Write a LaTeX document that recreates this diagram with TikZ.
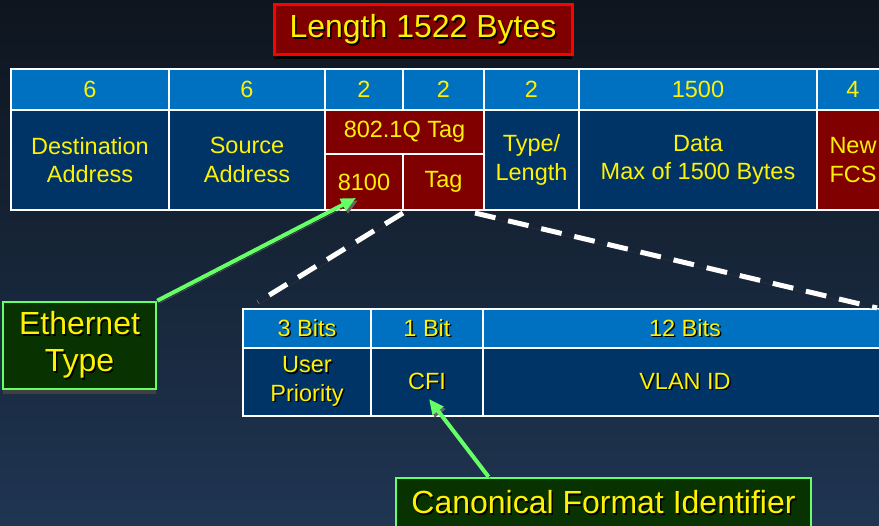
\documentclass[tikz,border=0pt]{standalone}
\usepackage{fontspec}
\setmainfont{Liberation Sans}
\usetikzlibrary{arrows.meta,shadows}
\definecolor{bgtop}{RGB}{14,21,30}
\definecolor{bgbot}{RGB}{31,53,82}
\definecolor{hdrblue}{RGB}{0,112,192}
\definecolor{navy}{RGB}{0,51,102}
\definecolor{darkred}{RGB}{128,0,0}
\definecolor{lgreen}{RGB}{102,255,102}
\definecolor{dgreen}{RGB}{8,51,0}
\newcommand{\tsh}[1]{\makebox[0pt][l]{\kern1.5pt\raisebox{-1.5pt}{\color{black}#1}}#1}
\tikzset{
  cell/.style={draw=white, line width=2.5pt, inner sep=0pt, outer sep=0pt,
    text=yellow, align=center, font=\fontsize{23.5}{28.5}\selectfont},
  hdr/.style={cell, fill=hdrblue},
  body/.style={cell, fill=navy},
  redbody/.style={cell, fill=darkred},
  callout/.style={draw=lgreen, line width=2.5pt, fill=dgreen, text=yellow, align=center,
    inner sep=0pt, font=\fontsize{32}{37}\selectfont,
    drop shadow={shadow xshift=0pt, shadow yshift=-5pt, fill=black!75, opacity=1}},
  dashline/.style={draw=white, line width=5pt, dash pattern=on 21pt off 13pt,
    preaction={draw=black!80, transform canvas={shift={(1.5pt,-2pt)}}}},
  greenarrow/.style={draw=lgreen, line width=4pt, -{Triangle[length=15pt,width=13pt]},
    preaction={draw=black!60, transform canvas={shift={(2pt,-2.5pt)}}}}
}
\begin{document}
\begin{tikzpicture}[x=1pt, y=-1pt]
  \useasboundingbox (0,0) rectangle (879,526);
  \clip (0,0) rectangle (879,526);
  \shade[top color=bgtop, bottom color=bgbot] (0,0) rectangle (879,526);

  \node[draw=red, line width=3pt, fill=darkred, text=yellow, inner sep=0pt,
    minimum width=298, minimum height=50, font=\fontsize{32}{37}\selectfont,
    drop shadow={shadow xshift=0pt, shadow yshift=-4pt, fill=black, opacity=1}]
    (title) at (423,30) {\tsh{Length 1522 Bytes}};

  \node[hdr, minimum width=158, minimum height=41] (h1) at (90,89.5) {6};
  \node[hdr, minimum width=156, minimum height=41] (h2) at (247,89.5) {6};
  \node[hdr, minimum width=78, minimum height=41] (h3) at (364,89.5) {2};
  \node[hdr, minimum width=81, minimum height=41] (h4) at (443.5,89.5) {2};
  \node[hdr, minimum width=95, minimum height=41] (h5) at (531.5,89.5) {2};
  \node[hdr, minimum width=238, minimum height=41] (h6) at (698,89.5) {1500};
  \node[hdr, minimum width=72, minimum height=41] (h7) at (853,89.5) {4};

  \node[body, minimum width=158, minimum height=100] (dst) at (90,160) {Destination\\Address};
  \node[body, minimum width=156, minimum height=100] (src) at (247,160) {Source\\Address};
  \node[redbody, minimum width=159, minimum height=44] (qtag) at (404.5,132) {802.1Q Tag};
  \node[redbody, minimum width=78, minimum height=56] (e8100) at (364,182) {8100};
  \node[redbody, minimum width=81, minimum height=56] (tag) at (443.5,182) {Tag};
  \node[body, minimum width=95, minimum height=100] (type) at (531.5,160) {Type/\\Length};
  \node[body, minimum width=238, minimum height=100] (data) at (698,160) {Data\\Max of 1500 Bytes};
  \node[redbody, minimum width=72, minimum height=100] (fcs) at (853,160) {New\\FCS};

  \node[hdr, minimum width=128, minimum height=39] (b1) at (307,328.5) {\tsh{3 Bits}};
  \node[hdr, minimum width=112, minimum height=39] (b2) at (427,328.5) {\tsh{1 Bit}};
  \node[hdr, minimum width=404, minimum height=39] (b3) at (685,328.5) {\tsh{12 Bits}};
  \node[body, minimum width=128, minimum height=68] (pri) at (307,382) {\tsh{User}\\\tsh{Priority}};
  \node[body, minimum width=112, minimum height=68] (cfi) at (427,382) {\tsh{CFI}};
  \node[body, minimum width=404, minimum height=68] (vid) at (685,382) {\tsh{VLAN ID}};

  \draw[dashline] ([yshift=-3pt]tag.south west) -- ([xshift=15pt,yshift=7pt]b1.north west);
  \draw[dashline] ([xshift=-9pt,yshift=-3pt]tag.south east) -- ([xshift=-10pt,yshift=1pt]b3.north east);

  \node[callout, minimum width=153, minimum height=87] (eth) at (79.5,345.5) {\tsh{Ethernet}\\\tsh{Type}};
  \node[callout, minimum width=415, minimum height=50] (canon) at (603.5,503) {\tsh{Canonical Format Identifier}};

  \draw[greenarrow] (eth.north east) -- ([xshift=-8pt,yshift=12pt]e8100.south);
  \draw[greenarrow] ([xshift=-115pt]canon.north) -- ([xshift=2pt,yshift=17pt]cfi.south);
\end{tikzpicture}
\end{document}
